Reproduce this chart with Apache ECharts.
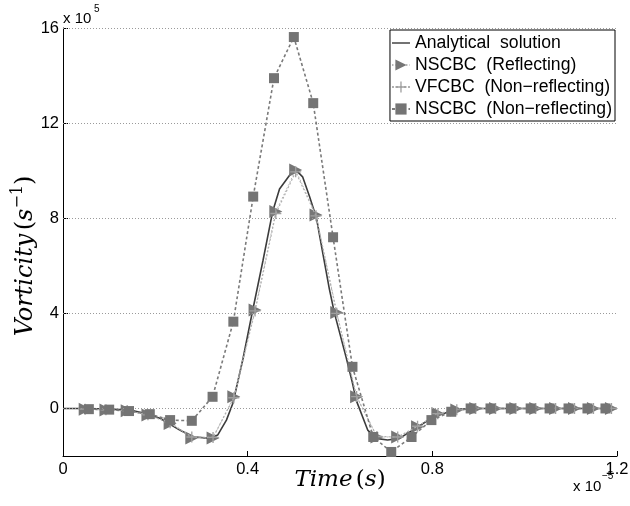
<!DOCTYPE html>
<html><head><meta charset="utf-8">
<script src="https://cdn.jsdelivr.net/npm/echarts@6/dist/echarts.min.js"></script>
<style>html,body{margin:0;padding:0;background:#fff}#c{width:630px;height:506px}</style>
</head><body><div id="c"></div>
<script>
const xTicks = [0, 0.4, 0.8, 1.2];
const yTicks = [0, 4, 8, 12, 16];
const seriesNames = ['Analytical  solution', 'NSCBC  (Reflecting)', 'VFCBC  (Non\u2212reflecting)', 'NSCBC  (Non\u2212reflecting)'];

const analyticalX = [0, 0.05, 0.1, 0.145, 0.184, 0.21, 0.253, 0.281, 0.318, 0.335, 0.354, 0.368, 0.39, 0.411, 0.433, 0.454, 0.469, 0.494, 0.508, 0.519, 0.534, 0.549, 0.563, 0.577, 0.588, 0.613, 0.627, 0.635, 0.66, 0.678, 0.703, 0.729, 0.757, 0.786, 0.815, 0.851, 0.886, 0.95, 1.0, 1.1, 1.2];
const analyticalY = [0, 0, -0.03, -0.07, -0.24, -0.41, -0.91, -1.19, -1.26, -1.12, -0.49, 0.22, 2.1, 4.14, 6.2, 8.27, 9.23, 9.89, 9.96, 9.74, 8.91, 8.01, 6.5, 5.02, 4.01, 2.17, 1.07, 0.35, -0.91, -1.26, -1.33, -1.26, -0.91, -0.56, -0.28, -0.04, 0, 0, 0, 0, 0];

const reflX = [0.048, 0.093, 0.139, 0.184, 0.232, 0.279, 0.325, 0.370, 0.416, 0.461, 0.504, 0.548, 0.593, 0.636, 0.680, 0.725, 0.768, 0.812, 0.853, 0.894, 0.937, 0.981, 1.024, 1.067, 1.108, 1.149, 1.188];
const reflY = [-0.03, -0.07, -0.10, -0.28, -0.63, -1.24, -1.24, 0.49, 4.14, 8.28, 10.03, 8.14, 4.04, 0.49, -1.20, -1.20, -0.77, -0.21, -0.07, 0, 0, 0, 0, 0, 0, 0, 0];

const vfcbcX = [0.048, 0.093, 0.139, 0.184, 0.232, 0.279, 0.325, 0.370, 0.416, 0.461, 0.504, 0.548, 0.593, 0.636, 0.680, 0.725, 0.768, 0.812, 0.853, 0.894, 0.937, 0.981, 1.024, 1.067, 1.108, 1.149, 1.188];
const vfcbcY = [-0.03, -0.06, -0.09, -0.27, -0.60, -1.20, -1.22, 0.45, 4.10, 8.20, 9.95, 8.10, 4.00, 0.50, -1.18, -1.20, -0.75, -0.22, -0.06, 0, 0, 0, 0, 0, 0, 0, 0];

const nonReflX = [0.056, 0.100, 0.143, 0.188, 0.232, 0.279, 0.324, 0.369, 0.412, 0.457, 0.500, 0.542, 0.585, 0.627, 0.672, 0.711, 0.755, 0.798, 0.841, 0.883, 0.926, 0.970, 1.013, 1.054, 1.095, 1.136, 1.175];
const nonReflY = [-0.03, -0.05, -0.11, -0.24, -0.49, -0.52, 0.49, 3.65, 8.91, 13.89, 15.62, 12.84, 7.20, 1.75, -1.20, -1.83, -1.20, -0.49, -0.14, 0, 0, 0, 0, 0, 0, 0, 0];

const zip = (xs, ys) => xs.map((x, i) => [x, ys[i]]);
const sans = '"Liberation Sans", Arial, Helvetica, sans-serif';
const serif = '"DejaVu Serif", serif';
const plusPath = 'path://M4.4,0L5.6,0L5.6,4.4L10,4.4L10,5.6L5.6,5.6L5.6,10L4.4,10L4.4,5.6L0,5.6L0,4.4L4.4,4.4Z';
const linePath = 'path://M0,0L20,0L20,1.6L0,1.6Z';

const chart = echarts.init(document.getElementById('c'), null, {renderer: 'canvas'});
chart.setOption({
  animation: false,
  backgroundColor: '#fff',
  grid: {left: 63, right: 13, top: 28, bottom: 50, containLabel: false, outerBoundsMode: 'none'},
  legend: {
    orient: 'vertical', right: 15, top: 30,
    backgroundColor: '#fff', borderColor: '#000', borderWidth: 1, borderRadius: 0,
    padding: [4, 3, 3, 1], itemGap: 4, itemWidth: 18, itemHeight: 14,
    textStyle: {fontFamily: sans, fontSize: 17.6, color: '#000', lineHeight: 17},
    data: [
      {name: seriesNames[0], icon: linePath},
      seriesNames[1], seriesNames[2], seriesNames[3]
    ]
  },
  xAxis: {
    type: 'value', min: xTicks[0], max: xTicks[xTicks.length - 1], interval: 0.4,
    axisLine: {show: true, onZero: false, lineStyle: {color: '#000', width: 1}},
    axisTick: {show: true, inside: true, length: 5, lineStyle: {color: '#000'}},
    axisLabel: {fontFamily: sans, fontSize: 16.5, color: '#000', margin: 5,
      formatter: v => String(+(+v).toFixed(1))},
    splitLine: {show: false},
    name: '{i|Time} {r|(}{i|s}{r|)}', nameLocation: 'middle', nameGap: 13, nameMoveOverlap: false,
    nameTextStyle: {rich: {
      i: {fontFamily: serif, fontStyle: 'italic', fontSize: 23, color: '#000'},
      r: {fontFamily: serif, fontSize: 23, color: '#000'}
    }}
  },
  yAxis: {
    type: 'value', min: -2, max: 16,
    axisLine: {show: true, lineStyle: {color: '#000', width: 1}},
    axisTick: {show: true, inside: true, length: 5, customValues: yTicks, lineStyle: {color: '#000'}},
    axisLabel: {customValues: yTicks, fontFamily: sans, fontSize: 16.5, color: '#000', margin: 4},
    splitLine: {show: false}
  },
  graphic: [
    {type: 'text', x: 26, y: 256, rotation: Math.PI / 2, silent: true, style: {
      text: '{i|Vorticity} {r|(}{i|s}{sup|\u22121}{r|)}', align: 'center', verticalAlign: 'middle',
      rich: {
        i: {fontFamily: serif, fontStyle: 'italic', fontSize: 24, fill: '#000', lineHeight: 32},
        r: {fontFamily: serif, fontSize: 24, fill: '#000', lineHeight: 32},
        sup: {fontFamily: serif, fontSize: 16, fill: '#000', verticalAlign: 'top', lineHeight: 32}
      }}},
    {type: 'text', left: 63, top: 11, style: {text: 'x 10', font: '15px ' + sans, fill: '#000'}},
    {type: 'text', left: 94, top: 4, style: {text: '5', font: '10px ' + sans, fill: '#000'}},
    {type: 'text', left: 573, top: 479, style: {text: 'x 10', font: '15px ' + sans, fill: '#000'}},
    {type: 'text', left: 602, top: 471, style: {text: '\u22125', font: '10px ' + sans, fill: '#000'}}
  ],
  series: [
    {
      name: 'gridlines', type: 'line', data: [], z: 1, silent: true,
      markLine: {silent: true, symbol: ['none', 'none'], label: {show: false}, animation: false,
        lineStyle: {color: '#9a9a9a', type: [1, 2], width: 1},
        emphasis: {disabled: true},
        data: yTicks.map(v => ({yAxis: v}))}
    },
    {
      name: seriesNames[0], type: 'line', data: zip(analyticalX, analyticalY), z: 2,
      symbol: 'none', smooth: false, color: '#3c3c3c',
      lineStyle: {color: '#3c3c3c', width: 1.6}
    },
    {
      name: seriesNames[1], type: 'line', data: zip(reflX, reflY), z: 3,
      symbol: 'triangle', symbolRotate: -90, symbolSize: [13, 13], showAllSymbol: true,
      color: '#767676', itemStyle: {color: '#767676'},
      lineStyle: {color: '#b8b8b8', width: 1, type: [1.5, 2]}
    },
    {
      name: seriesNames[2], type: 'line', data: zip(vfcbcX, vfcbcY), z: 4,
      symbol: plusPath, symbolSize: 11, showAllSymbol: true,
      color: '#a0a0a0', itemStyle: {color: '#a0a0a0'},
      lineStyle: {color: '#b0b0b0', width: 1.2, type: [2, 2]}
    },
    {
      name: seriesNames[3], type: 'line', data: zip(nonReflX, nonReflY), z: 5,
      symbol: 'rect', symbolSize: 10, showAllSymbol: true,
      color: '#747474', itemStyle: {color: '#747474'},
      lineStyle: {color: '#7a7a7a', width: 1.6, type: [3, 2.5]}
    }
  ]
});
</script></body></html>
